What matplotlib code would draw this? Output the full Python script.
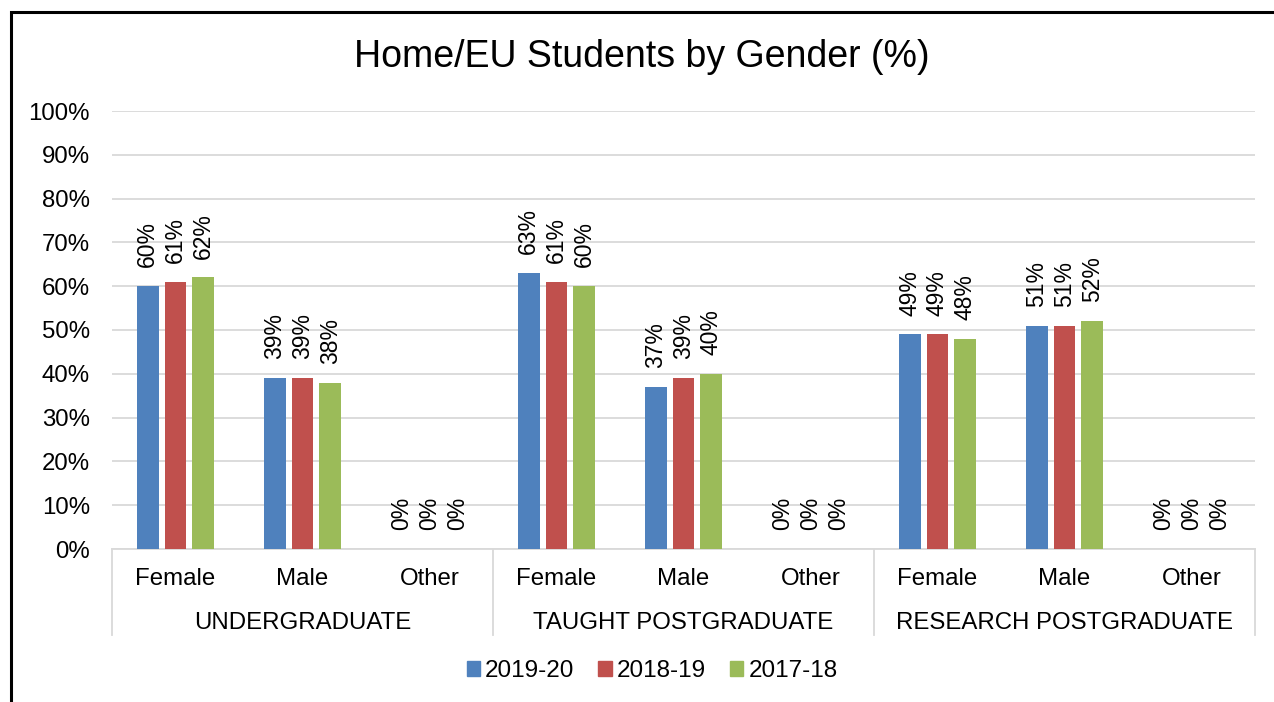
import numpy as np
import matplotlib.pyplot as plt
from matplotlib.patches import Rectangle
from matplotlib.lines import Line2D
import matplotlib.transforms as mtransforms

plt.rcParams['font.family'] = ['Liberation Sans', 'DejaVu Sans']

# data
groups = ["UNDERGRADUATE", "TAUGHT POSTGRADUATE", "RESEARCH POSTGRADUATE"]
genders = ["Female", "Male", "Other"]
years = ["2019-20", "2018-19", "2017-18"]
colors = ["#4F81BD", "#C0504D", "#9BBB59"]

vals_2019_20 = [60, 39, 0, 63, 37, 0, 49, 51, 0]
vals_2018_19 = [61, 39, 0, 61, 39, 0, 49, 51, 0]
vals_2017_18 = [62, 38, 0, 60, 40, 0, 48, 52, 0]
series = [vals_2019_20, vals_2018_19, vals_2017_18]

fig = plt.figure(figsize=(12.74, 7.02), dpi=100)
ax = fig.add_axes([112 / 1274, 1 - 549 / 702, (1255 - 112) / 1274, (549 - 111) / 702])

# figure border (left/top visible only)
fig.patches.append(Rectangle((11 / 1274, -0.1), 1.2, 1 - 12 / 702 + 0.1,
                             transform=fig.transFigure, fill=False,
                             edgecolor="black", linewidth=2.2, zorder=10))

x = np.arange(len(vals_2019_20))
step = 0.22
width = 0.173
for i, (vals, col) in enumerate(zip(series, colors)):
    pos = x + (i - 1) * step
    heights = np.array(vals) / 100
    ax.bar(pos, heights, width=width, color=col, zorder=3)
    for p, v in zip(pos, vals):
        ax.annotate(f"{v}%", (p, v / 100), xytext=(0, 13.5), textcoords="offset points",
                    rotation=90, ha="center", va="bottom", fontsize=16.5)

ax.set_xlim(-0.5, len(x) - 0.5)
ax.set_ylim(0, 1)
ax.set_yticks(np.arange(0, 1.01, 0.1))
ax.set_yticklabels([f"{int(round(t * 100))}%" for t in np.arange(0, 1.01, 0.1)], fontsize=17.3)
ax.tick_params(axis="y", length=0, pad=16)
ax.set_xticks([])
ax.grid(axis="y", color="#D9D9D9", linewidth=1.3, zorder=0)
for s in ["left", "right", "top"]:
    ax.spines[s].set_visible(False)
ax.spines["bottom"].set_color("#D9D9D9")
ax.spines["bottom"].set_linewidth(1.3)

# two-level category axis
trans = mtransforms.blended_transform_factory(ax.transData, ax.transAxes)
for i in range(len(x)):
    ax.text(x[i], -0.069, genders[i % 3], transform=trans, ha="center", va="center", fontsize=17.3)
for g, name in enumerate(groups):
    ax.text(3 * g + 1, -0.168, name, transform=trans, ha="center", va="center", fontsize=17.3)
for b in [-0.5, 2.5, 5.5, 8.5]:
    ax.add_line(Line2D([b, b], [0, -0.196], transform=trans, color="#D9D9D9",
                       linewidth=1.3, clip_on=False))

fig.text(642 / 1274, 1 - 57 / 702, "Home/EU Students by Gender (%)", ha="center", va="center", fontsize=27)

handles = [Rectangle((0, 0), 1, 1, color=c) for c in colors]
fig.legend(handles, years, loc="center", bbox_to_anchor=(652 / 1274, 1 - 671 / 702), ncol=3,
           frameon=False, fontsize=17.5, handlelength=0.55, handleheight=0.55,
           handletextpad=0.2, columnspacing=1.0)

fig.savefig("out.png", dpi=100)
